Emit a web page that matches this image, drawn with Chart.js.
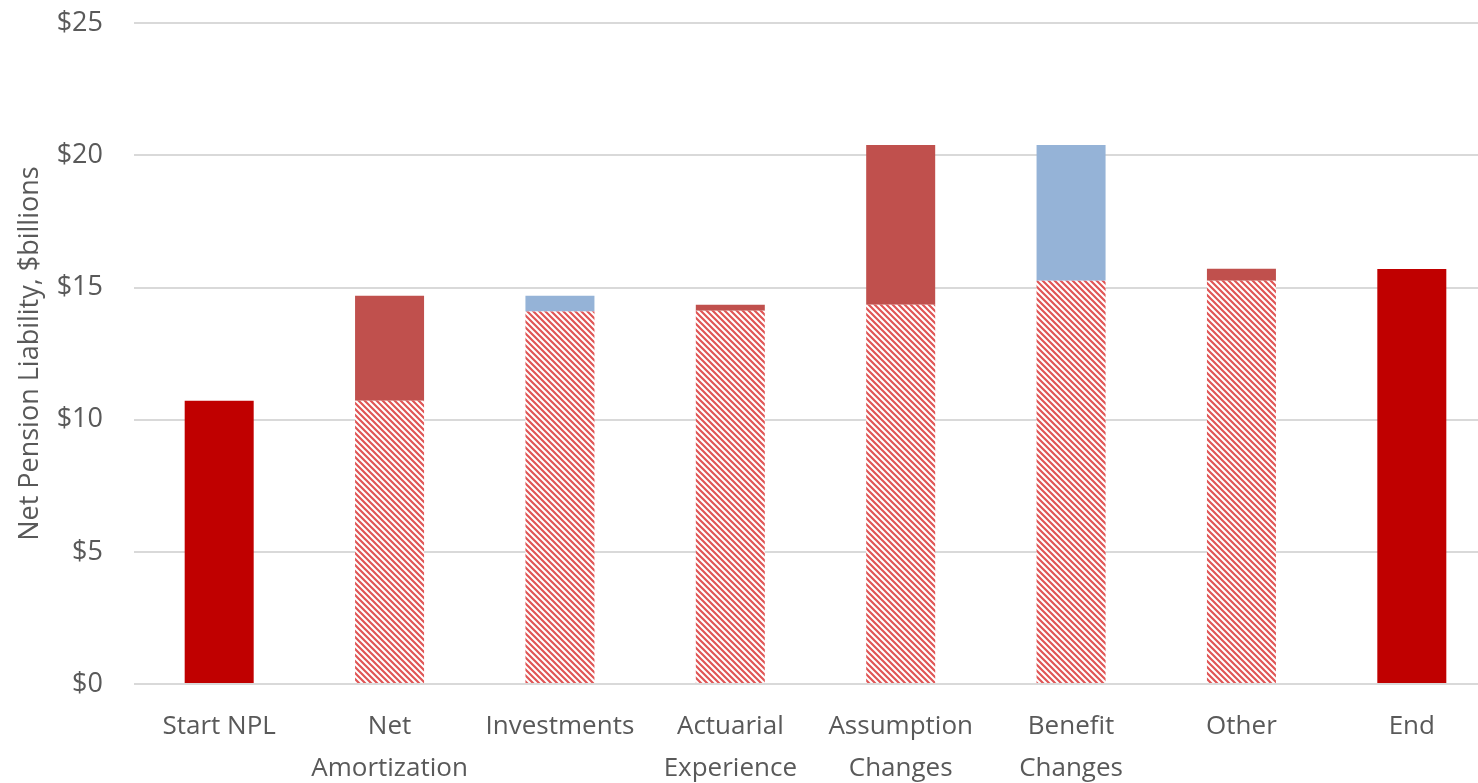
<!DOCTYPE html>
<html>
<head>
<meta charset="utf-8">
<script src="https://cdn.jsdelivr.net/npm/chart.js@4"></script>
<style>
  html, body { margin: 0; padding: 0; overflow: hidden; background: #fff; }
  #wrap { width: 1497px; height: 807px; margin-top: -24px; }
</style>
</head>
<body>
<div id="wrap"><canvas id="chart"></canvas></div>
<script>
const categories = [
  'Start NPL', ['Net', 'Amortization'], 'Investments', ['Actuarial', 'Experience'],
  ['Assumption', 'Changes'], ['Benefit', 'Changes'], 'Other', 'End'
]
const startEnd = [10.72, null, null, null, null, null, null, 15.70]
const baseValues = [null, 10.72, 14.09, 14.12, 14.35, 15.26, 15.26, null]
const increases = [null, 3.97, null, 0.23, 6.04, null, 0.45, null]
const decreases = [null, null, 0.60, null, null, 5.13, null, null]
const yTicks = [0, 5, 10, 15, 20, 25]

const COLORS = {
  total: '#c00000',
  up: '#c0504d',
  down: '#95b3d7',
  hatch: '#e05555',
  grid: '#d9d9d9',
  text: '#595959'
}

function hatchPattern() {
  const size = 6
  const c = document.createElement('canvas')
  c.width = size
  c.height = size
  const ctx = c.getContext('2d')
  ctx.fillStyle = '#fff'
  ctx.fillRect(0, 0, size, size)
  ctx.strokeStyle = COLORS.hatch
  ctx.lineWidth = 2.2
  ctx.beginPath()
  ctx.moveTo(-size, -size); ctx.lineTo(size * 2, size * 2)
  ctx.moveTo(0, -size); ctx.lineTo(size * 2, size)
  ctx.moveTo(-size, 0); ctx.lineTo(size, size * 2)
  ctx.stroke()
  return c.getContext('2d').createPattern(c, 'repeat')
}

const font = "'Open Sans', sans-serif"
const barOpts = { barPercentage: 0.405, categoryPercentage: 1, borderWidth: 0, stack: 'w' }

new Chart(document.getElementById('chart'), {
  type: 'bar',
  data: {
    labels: categories,
    datasets: [
      { label: 'Total', data: startEnd, backgroundColor: COLORS.total, ...barOpts },
      { label: 'Base', data: baseValues, backgroundColor: hatchPattern(), ...barOpts },
      { label: 'Increase', data: increases, backgroundColor: COLORS.up, ...barOpts },
      { label: 'Decrease', data: decreases, backgroundColor: COLORS.down, ...barOpts }
    ]
  },
  options: {
    responsive: true,
    maintainAspectRatio: false,
    animation: false,
    layout: { padding: { top: -9, right: 0, left: 0, bottom: 0 } },
    plugins: { legend: { display: false }, tooltip: { enabled: false } },
    scales: {
      x: {
        stacked: true,
        grid: { display: false },
        border: { display: false },
        ticks: {
          color: COLORS.text,
          font: { family: font, size: 26, lineHeight: 1.6 },
          padding: 14,
          maxRotation: 0,
          autoSkip: false
        },
        afterFit: s => { s.height = 99 }
      },
      y: {
        stacked: true,
        min: 0,
        max: 25,
        afterBuildTicks: s => { s.ticks = yTicks.map(v => ({ value: v })) },
        grid: { color: COLORS.grid, lineWidth: 2, drawTicks: false },
        border: { display: false },
        ticks: {
          color: COLORS.text,
          font: { family: font, size: 27 },
          padding: 31,
          callback: v => '$' + v
        },
        title: {
          display: true,
          text: 'Net Pension Liability, $billions',
          color: COLORS.text,
          font: { family: font, size: 27 },
          padding: { top: 14, bottom: 0 }
        },
        afterFit: s => { s.width = 134 }
      }
    }
  }
})
</script>
</body>
</html>
